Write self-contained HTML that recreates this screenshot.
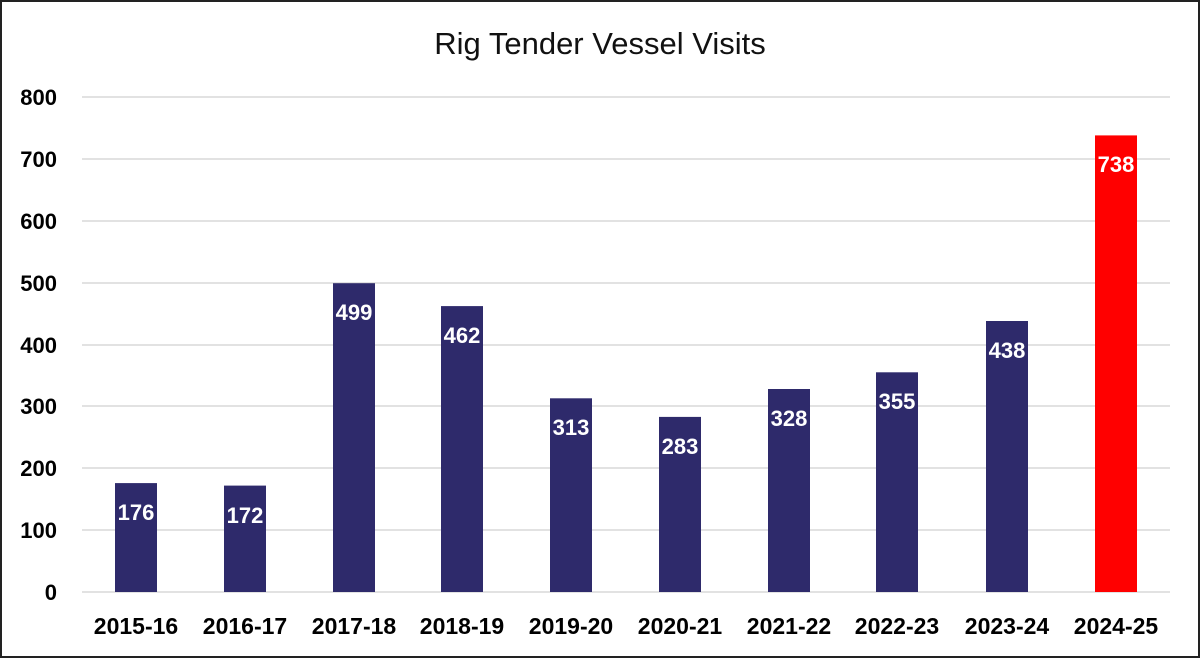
<!DOCTYPE html>
<html><head><meta charset="utf-8"><style>
html,body{margin:0;padding:0;background:#fff}
svg{display:block}
text{font-family:"Liberation Sans",Arial,sans-serif}
</style></head><body>
<svg width="1200" height="658" viewBox="0 0 1200 658" xmlns="http://www.w3.org/2000/svg">
<rect x="1" y="1" width="1198" height="656" fill="#fff" stroke="#222" stroke-width="2"/>
<text x="600" y="54" text-anchor="middle" font-size="31" fill="#111">Rig Tender Vessel Visits</text>
<g stroke="#d9d9d9" stroke-width="1.5">
<line x1="82" x2="1170" y1="97" y2="97"/>
<line x1="82" x2="1170" y1="159" y2="159"/>
<line x1="82" x2="1170" y1="221" y2="221"/>
<line x1="82" x2="1170" y1="283" y2="283"/>
<line x1="82" x2="1170" y1="345" y2="345"/>
<line x1="82" x2="1170" y1="406" y2="406"/>
<line x1="82" x2="1170" y1="468" y2="468"/>
<line x1="82" x2="1170" y1="530" y2="530"/>
<line x1="82" x2="1170" y1="592" y2="592"/>
</g>
<g font-size="22" font-weight="bold" fill="#000" text-anchor="end">
<text x="57" y="105">800</text>
<text x="57" y="167">700</text>
<text x="57" y="229">600</text>
<text x="57" y="291">500</text>
<text x="57" y="353">400</text>
<text x="57" y="414">300</text>
<text x="57" y="476">200</text>
<text x="57" y="538">100</text>
<text x="57" y="600">0</text>
</g>
<g fill="#2e2a6b">
<rect x="115" y="483.1" width="42" height="108.9"/>
<rect x="224" y="485.6" width="42" height="106.4"/>
<rect x="333" y="283.2" width="42" height="308.8"/>
<rect x="441" y="306.1" width="42" height="285.9"/>
<rect x="550" y="398.3" width="42" height="193.7"/>
<rect x="659" y="416.9" width="42" height="175.1"/>
<rect x="768" y="389.0" width="42" height="203"/>
<rect x="876" y="372.3" width="42" height="219.7"/>
<rect x="986" y="321.0" width="42" height="271"/>
</g>
<rect x="1095" y="135.4" width="42" height="456.6" fill="#ff0000"/>
<g font-size="22" font-weight="bold" fill="#fff" text-anchor="middle">
<text x="136" y="520">176</text>
<text x="245" y="523">172</text>
<text x="354" y="320">499</text>
<text x="462" y="343">462</text>
<text x="571" y="435">313</text>
<text x="680" y="454">283</text>
<text x="789" y="426">328</text>
<text x="897" y="409">355</text>
<text x="1007" y="358">438</text>
<text x="1116" y="172">738</text>
</g>
<g font-size="23" font-weight="bold" fill="#000" text-anchor="middle">
<text x="136" y="634">2015-16</text>
<text x="245" y="634">2016-17</text>
<text x="354" y="634">2017-18</text>
<text x="462" y="634">2018-19</text>
<text x="571" y="634">2019-20</text>
<text x="680" y="634">2020-21</text>
<text x="789" y="634">2021-22</text>
<text x="897" y="634">2022-23</text>
<text x="1007" y="634">2023-24</text>
<text x="1116" y="634">2024-25</text>
</g>
</svg>
</body></html>
